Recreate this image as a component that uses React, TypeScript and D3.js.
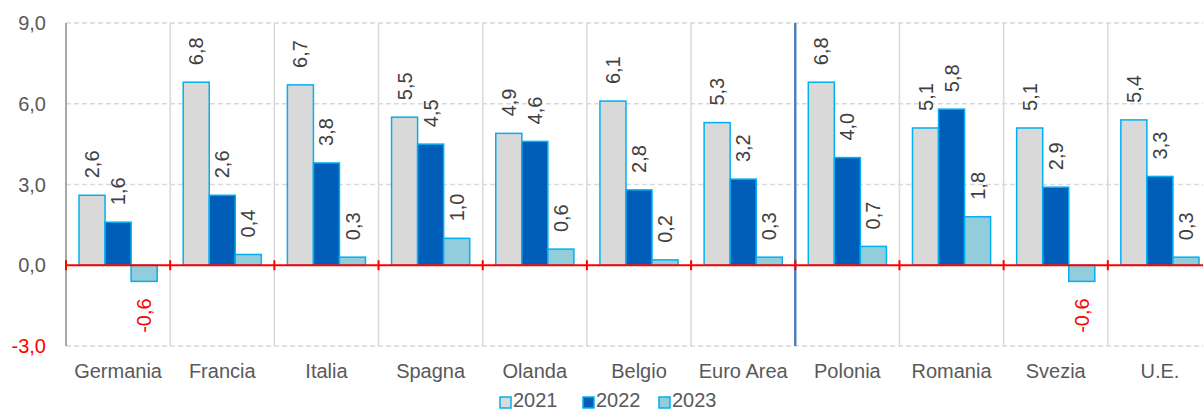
import React from "react";
import * as d3 from "d3";

const categories = ["Germania", "Francia", "Italia", "Spagna", "Olanda", "Belgio", "Euro Area", "Polonia", "Romania", "Svezia", "U.E."];
const series = ["2021", "2022", "2023"];
const values2021 = [2.6, 6.8, 6.7, 5.5, 4.9, 6.1, 5.3, 6.8, 5.1, 5.1, 5.4];
const values2022 = [1.6, 2.6, 3.8, 4.5, 4.6, 2.8, 3.2, 4.0, 5.8, 2.9, 3.3];
const values2023 = [-0.6, 0.4, 0.3, 1.0, 0.6, 0.2, 0.3, 0.7, 1.8, -0.6, 0.3];
const yTicks = [-3, 0, 3, 6, 9];
const separatorAfter = "Euro Area";

const seriesValues = [values2021, values2022, values2023];
const fills = ["#d9d9d9", "#005eb8", "#92cddc"];
const barStroke = "#00b0f0";

const W = 1203;
const H = 412;
const left = 66;
const right = 1212;
const fmt = (v: number) => v.toFixed(1).replace(".", ",");

export default function App() {
  const x = d3.scaleBand<string>().domain(categories).range([left, right]).paddingInner(0).paddingOuter(0);
  const bw = x.bandwidth();
  const xs = d3.scaleBand<string>().domain(series).range([bw * 0.125, bw * 0.875]).padding(0);
  const y = d3.scaleLinear().domain([-3, 9]).range([346, 23]);
  const y0 = y(0);
  const font = "Liberation Sans, Arial, sans-serif";
  const boundaries = categories.map((c) => x(c) as number).concat([right]);
  const sepX = (x(separatorAfter) as number) + bw;

  return (
    <svg width={W} height={H} style={{ position: "absolute", left: 0, top: 0, display: "block", background: "#fff" }} fontFamily={font}>
      {/* horizontal grid */}
      {yTicks.filter((t) => t !== 0).map((t) => (
        <line key={"g" + t} x1={left} x2={W} y1={y(t)} y2={y(t)} stroke="#d9d9d9" strokeWidth={1.5} strokeDasharray="5,3" />
      ))}
      {/* vertical grid */}
      {boundaries.slice(1).map((b, i) => (
        <line key={"v" + i} x1={b} x2={b} y1={y(9)} y2={y(-3)} stroke="#d9d9d9" strokeWidth={1.5} />
      ))}
      {/* left axis */}
      <line x1={left} x2={left} y1={y(9)} y2={y(-3)} stroke="#8c8c8c" strokeWidth={1.5} />
      {/* separator */}
      <line x1={sepX} x2={sepX} y1={y(9)} y2={y(-3)} stroke="#4f81bd" strokeWidth={2.5} />
      {/* bars */}
      {categories.map((c, ci) => (
        <g key={c}>
          {series.map((s, si) => {
            const v = seriesValues[si][ci];
            const bx = (x(c) as number) + (xs(s) as number);
            const top = Math.min(y(v), y0);
            const h = Math.abs(y(v) - y0);
            return (
              <rect key={s} x={bx} y={top} width={xs.bandwidth()} height={h} fill={fills[si]} stroke={barStroke} strokeWidth={1.5} />
            );
          })}
        </g>
      ))}
      {/* zero line */}
      <line x1={left} x2={W} y1={y0} y2={y0} stroke="#ff0000" strokeWidth={2} />
      {boundaries.map((b, i) => (
        <line key={"t" + i} x1={b} x2={b} y1={y0 - 5} y2={y0 + 5} stroke="#ff0000" strokeWidth={2} />
      ))}
      {/* data labels */}
      {categories.map((c, ci) => (
        <g key={"l" + c}>
          {series.map((s, si) => {
            const v = seriesValues[si][ci];
            const cx = (x(c) as number) + (xs(s) as number) + xs.bandwidth() / 2;
            const neg = v < 0;
            const ly = neg ? y(v) + 17 : y(v) - 17;
            return (
              <text key={s} transform={`translate(${cx},${ly}) rotate(-90)`} textAnchor={neg ? "end" : "start"} dominantBaseline="central" fontSize={20} fill={neg ? "#ff0000" : "#404040"}>
                {fmt(v)}
              </text>
            );
          })}
        </g>
      ))}
      {/* y tick labels */}
      {yTicks.map((t) => (
        <text key={"y" + t} x={46} y={y(t)} textAnchor="end" dominantBaseline="central" fontSize={20} fill={t < 0 ? "#ff0000" : "#595959"}>
          {fmt(t)}
        </text>
      ))}
      {/* category labels */}
      {categories.map((c) => (
        <text key={"c" + c} x={(x(c) as number) + bw / 2} y={378} textAnchor="middle" fontSize={20} fill="#595959">
          {c}
        </text>
      ))}
      {/* legend */}
      {series.map((s, si) => {
        const lx = [500, 583, 659][si];
        return (
          <g key={"lg" + s}>
            <rect x={lx} y={397} width={11} height={11} fill={fills[si]} stroke={barStroke} strokeWidth={1.5} />
            <text x={lx + 13} y={407} fontSize={20} fill="#595959">{s}</text>
          </g>
        );
      })}
    </svg>
  );
}
